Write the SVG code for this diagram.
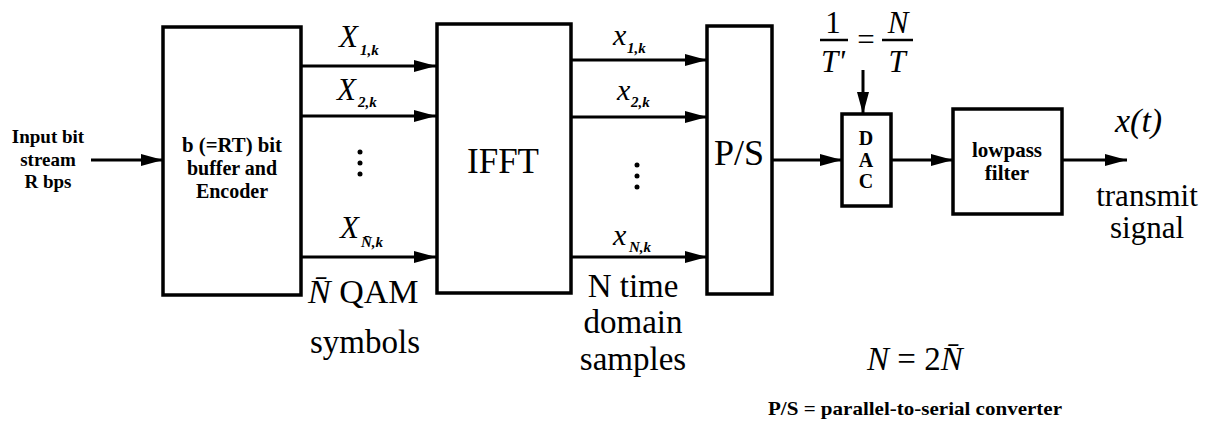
<svg xmlns="http://www.w3.org/2000/svg" width="1219" height="430" viewBox="0 0 1219 430">
<style>
.box{fill:#fff;stroke:#000;stroke-width:3.5}
.ln{stroke:#000;stroke-width:3;fill:none}
.b{font-weight:bold}
.i{font-style:italic}
.sub{font-style:italic;font-weight:bold;font-size:15px}
</style>
<defs>
<marker id="ah" markerUnits="userSpaceOnUse" markerWidth="24" markerHeight="14" refX="22" refY="6" orient="auto">
<path d="M0,0 L22,6 L0,12 z" fill="#000"/>
</marker>
</defs>
<rect width="1219" height="430" fill="#fff"/>
<g id="connectors">
<line class="ln" x1="91" y1="160" x2="163" y2="160" marker-end="url(#ah)"/>
<line class="ln" x1="301" y1="66" x2="436" y2="66" marker-end="url(#ah)"/>
<line class="ln" x1="301" y1="116" x2="436" y2="116" marker-end="url(#ah)"/>
<line class="ln" x1="301" y1="257" x2="436" y2="257" marker-end="url(#ah)"/>
<line class="ln" x1="571" y1="60" x2="707" y2="60" marker-end="url(#ah)"/>
<line class="ln" x1="571" y1="117" x2="707" y2="117" marker-end="url(#ah)"/>
<line class="ln" x1="571" y1="257" x2="707" y2="257" marker-end="url(#ah)"/>
<line class="ln" x1="772" y1="160" x2="842" y2="160" marker-end="url(#ah)"/>
<line class="ln" x1="891" y1="160" x2="953" y2="160" marker-end="url(#ah)"/>
<line class="ln" x1="1062" y1="160" x2="1127" y2="160" marker-end="url(#ah)"/>
<line class="ln" x1="863" y1="70" x2="863" y2="114" marker-end="url(#ah)"/>
</g>
<g id="input">
<text font-family="Liberation Serif" class="b" font-size="19" text-anchor="middle"><tspan x="48" y="143">Input bit</tspan><tspan x="48" y="166">stream</tspan><tspan x="48" y="188">R bps</tspan></text>
</g>
<g id="encoder">
<rect class="box" x="163" y="27" width="138" height="268"/>
<text font-family="Liberation Serif" class="b" font-size="20" text-anchor="middle"><tspan x="232" y="152" textLength="100" lengthAdjust="spacingAndGlyphs">b (=RT) bit</tspan><tspan x="232" y="175">buffer and</tspan><tspan x="232" y="198">Encoder</tspan></text>
</g>
<g id="qam-labels">
<text font-family="Liberation Serif" class="i" font-size="31" x="339" y="47">X</text><text font-family="Liberation Serif" class="sub" x="360" y="55">1,k</text>
<text font-family="Liberation Serif" class="i" font-size="31" x="337" y="100">X</text><text font-family="Liberation Serif" class="sub" x="358" y="107">2,k</text>
<text font-family="Liberation Serif" class="i" font-size="31" x="340" y="238">X</text><text font-family="Liberation Serif" class="sub" x="361" y="247">N̄,k</text>
<circle cx="360" cy="152" r="2.5"/><circle cx="360" cy="163" r="2.5"/><circle cx="360" cy="174" r="2.5"/>
<text font-family="Liberation Serif" font-size="34" x="308" y="303"><tspan class="i">N̄</tspan> QAM</text>
<text font-family="Liberation Serif" font-size="33" x="365" y="353" text-anchor="middle">symbols</text>
</g>
<g id="ifft">
<rect class="box" x="437" y="24" width="134" height="269"/>
<text font-family="Liberation Serif" font-size="35" x="503" y="173" text-anchor="middle">IFFT</text>
</g>
<g id="time-labels">
<text font-family="Liberation Serif" class="i" font-size="30" x="613" y="45">x</text><text font-family="Liberation Serif" class="sub" x="627" y="53">1,k</text>
<text font-family="Liberation Serif" class="i" font-size="30" x="617" y="100">x</text><text font-family="Liberation Serif" class="sub" x="631" y="107">2,k</text>
<text font-family="Liberation Serif" class="i" font-size="30" x="613" y="245">x</text><text font-family="Liberation Serif" class="sub" x="629" y="252">N,k</text>
<circle cx="637" cy="165" r="2.5"/><circle cx="637" cy="176" r="2.5"/><circle cx="637" cy="187" r="2.5"/>
<text font-family="Liberation Serif" font-size="33" text-anchor="middle"><tspan x="633" y="297">N time</tspan><tspan x="633" y="333">domain</tspan><tspan x="633" y="370">samples</tspan></text>
</g>
<g id="ps">
<rect class="box" x="707" y="26" width="65" height="268"/>
<text font-family="Liberation Serif" font-size="36" x="739" y="165" text-anchor="middle">P/S</text>
</g>
<g id="rate">
<text font-family="Liberation Serif" font-size="31" x="833" y="33" text-anchor="middle">1</text>
<line x1="820" y1="40" x2="848" y2="40" stroke="#000" stroke-width="2.5"/>
<text font-family="Liberation Serif" class="i" font-size="31" x="833" y="72" text-anchor="middle">T'</text>
<text font-family="Liberation Serif" font-size="31" x="866" y="50" text-anchor="middle">=</text>
<line x1="882" y1="40" x2="913" y2="40" stroke="#000" stroke-width="2.5"/>
<text font-family="Liberation Serif" class="i" font-size="31" x="898" y="33" text-anchor="middle">N</text>
<text font-family="Liberation Serif" class="i" font-size="31" x="897" y="72" text-anchor="middle">T</text>
</g>
<g id="dac">
<rect class="box" x="842" y="114" width="49" height="92"/>
<text font-family="Liberation Serif" class="b" font-size="20" text-anchor="middle"><tspan x="866" y="145">D</tspan><tspan x="866" y="167">A</tspan><tspan x="866" y="188">C</tspan></text>
</g>
<g id="lowpass">
<rect class="box" x="953" y="109" width="109" height="105"/>
<text font-family="Liberation Serif" class="b" font-size="21" text-anchor="middle"><tspan x="1007" y="157">lowpass</tspan><tspan x="1007" y="180">filter</tspan></text>
</g>
<g id="output">
<text font-family="Liberation Serif" class="i" font-size="34" x="1115" y="132">x(t)</text>
<text font-family="Liberation Serif" font-size="31" text-anchor="middle"><tspan x="1147" y="206">transmit</tspan><tspan x="1147" y="238">signal</tspan></text>
</g>
<g id="notes">
<text font-family="Liberation Serif" font-size="33" x="867" y="370"><tspan class="i">N</tspan> = 2<tspan class="i">N̄</tspan></text>
<text font-family="Liberation Serif" class="b" font-size="19" x="768" y="415" textLength="294" lengthAdjust="spacingAndGlyphs">P/S = parallel-to-serial converter</text>
</g>
</svg>
